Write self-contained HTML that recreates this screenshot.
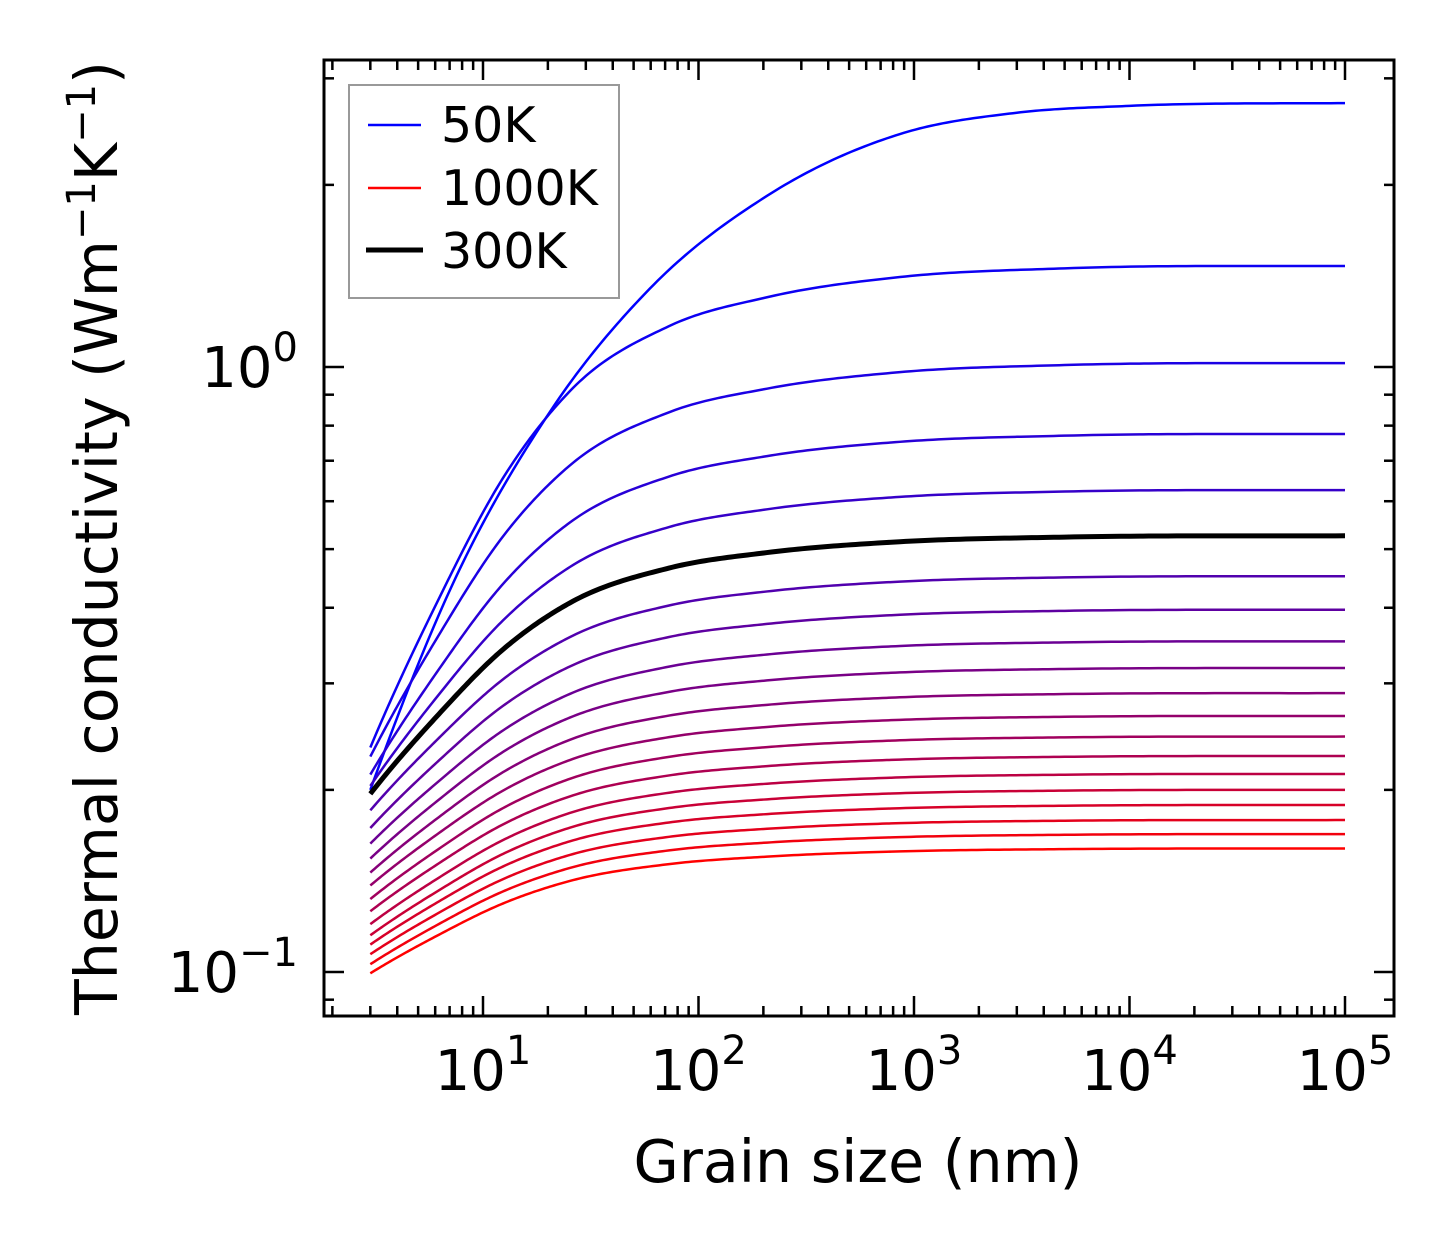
<!DOCTYPE html>
<html><head><meta charset="utf-8">
<style>
html,body{margin:0;padding:0;background:#fff;}
svg{display:block;font-family:"DejaVu Sans","Liberation Sans",sans-serif;}
</style></head>
<body>
<svg id="chart" width="1454" height="1254" viewBox="0 0 1454 1254" xmlns="http://www.w3.org/2000/svg">
<rect x="0" y="0" width="1454" height="1254" fill="#fff"/>
<g id="plot"></g>
<g id="axes"></g>
<text x="858" y="1182" font-size="58.5" text-anchor="middle">Grain size (nm)</text>
<text transform="translate(117,538) rotate(-90)" font-size="58.5" text-anchor="middle">Thermal conductivity (Wm<tspan dy="-22" font-size="40">−1</tspan><tspan dy="22">K</tspan><tspan dy="-22" font-size="40">−1</tspan><tspan dy="22">)</tspan></text>
<g>
<rect x="349" y="85" width="270" height="213" fill="#fff" stroke="#999" stroke-width="2"/>
<line x1="368" y1="125" x2="421" y2="125" stroke="#0000ff" stroke-width="2.5"/>
<text x="441" y="142" font-size="49">50K</text>
<line x1="368" y1="188" x2="421" y2="188" stroke="#ff0000" stroke-width="2.5"/>
<text x="441" y="205" font-size="49">1000K</text>
<line x1="366" y1="250" x2="423" y2="250" stroke="#000" stroke-width="5"/>
<text x="441" y="268" font-size="49">300K</text>
</g>
</svg>
<script>
// Data
const temperatures = [50,100,150,200,250,300,350,400,450,500,550,600,650,700,750,800,850,900,950,1000];
const kappaAt3nm = [0.200,0.235,0.227,0.212,0.203,0.197,0.185,0.173,0.163,0.154,0.146,0.139,0.132,0.126,0.120,0.115,0.111,0.107,0.103,0.0995];
const kappaBulk = [2.73,1.469,1.015,0.775,0.626,0.526,0.451,0.397,0.352,0.318,0.289,0.265,0.245,0.2275,0.2125,0.200,0.1888,0.1783,0.169,0.160];
const grainCommon = [3,6.1,12.4,25.3,73,208,861,5000,100000];
const shapeCommon = [0,0.30,0.56,0.74,0.875,0.935,0.977,0.995,1];
const grain50K = [3,7,20.4,59.5,208,861,3000,10000,100000];
const shape50K = [0,0.29,0.55,0.73,0.865,0.955,0.986,0.996,1];
const xTickLabels = ["1","2","3","4","5"];
const yTickLabels = ["−1","0"];

// Axis functions
const X0=324,X1=1394,Y0=60,Y1=1016;
const xDec=(1345-483)/4;
function xs(v){return 483+(Math.log10(v)-1)*xDec;}
function ys(v){return 367-Math.log10(v)*605;}
const NS="http://www.w3.org/2000/svg";
const plot=document.getElementById('plot');
const axes=document.getElementById('axes');

const defs=document.createElementNS(NS,'defs');
defs.innerHTML='<clipPath id="clip"><rect x="324" y="60" width="1070" height="956"/></clipPath>';
document.getElementById('chart').appendChild(defs);
plot.setAttribute('clip-path','url(#clip)');

function smoothSpline(xsArr,ysArr,n){
  const m=xsArr.length,d=[],h=[],t=new Array(m);
  for(let i=0;i<m-1;i++){h.push(xsArr[i+1]-xsArr[i]);d.push((ysArr[i+1]-ysArr[i])/h[i]);}
  t[0]=d[0]*1.1;t[m-1]=d[m-2]*0.5;
  for(let i=1;i<m-1;i++){t[i]=(d[i-1]*h[i]+d[i]*h[i-1])/(h[i-1]+h[i]);}
  const pts=[];
  for(let i=0;i<m-1;i++){
    for(let k=0;k<n;k++){
      const s=k/n,h00=2*s*s*s-3*s*s+1,h10=s*s*s-2*s*s+s,h01=-2*s*s*s+3*s*s,h11=s*s*s-s*s;
      pts.push([xsArr[i]+s*h[i],h00*ysArr[i]+h10*h[i]*t[i]+h01*ysArr[i+1]+h11*h[i]*t[i+1]]);
    }
  }
  pts.push([xsArr[m-1],ysArr[m-1]]);
  return pts;
}
function curvePath(idx,grain,shape){
  const lx=grain.map(g=>Math.log10(g));
  const a=Math.log10(kappaAt3nm[idx]),b=Math.log10(kappaBulk[idx]);
  const ly=shape.map(s=>a+(b-a)*s);
  const pts=smoothSpline(lx,ly,30);
  return pts.map((p,i)=>(i?'L':'M')+xs(Math.pow(10,p[0])).toFixed(2)+' '+ys(Math.pow(10,p[1])).toFixed(2)).join(' ');
}
temperatures.forEach((T,i)=>{
  const r=Math.round(i/19*255);
  const p=document.createElementNS(NS,'path');
  p.setAttribute('d',i===0?curvePath(i,grain50K,shape50K):curvePath(i,grainCommon,shapeCommon));
  p.setAttribute('fill','none');
  p.setAttribute('stroke','rgb('+r+',0,'+(255-r)+')');
  p.setAttribute('stroke-width','2.5');
  
  
  plot.appendChild(p);
});
{
  const i=temperatures.indexOf(300);
  const p=document.createElementNS(NS,'path');
  p.setAttribute('d',curvePath(i,grainCommon,shapeCommon));
  p.setAttribute('fill','none');
  p.setAttribute('stroke','#000');
  p.setAttribute('stroke-width','5');
  
  
  plot.appendChild(p);
}

function ln(x1,y1,x2,y2,w,name){
  const l=document.createElementNS(NS,'line');
  l.setAttribute('x1',x1);l.setAttribute('y1',y1);l.setAttribute('x2',x2);l.setAttribute('y2',y2);
  l.setAttribute('stroke','#000');l.setAttribute('stroke-width',w);
  
  
  axes.appendChild(l);
}
for(let d=0;d<=5;d++){
  for(let m=1;m<=9;m++){
    const v=m*Math.pow(10,d),x=xs(v);
    if(x<X0+1||x>X1-1)continue;
    const L=m===1?20:10;
    ln(x,Y1,x,Y1-L,2.5,'x-tick');
    ln(x,Y0,x,Y0+L,2.5,'x-tick-top');
  }
}
xTickLabels.forEach(e=>{
  const x=xs(Math.pow(10,+e));
  const t=document.createElementNS(NS,'text');
  t.setAttribute('x',x);t.setAttribute('y',1090);t.setAttribute('font-size','56');t.setAttribute('text-anchor','middle');
  t.innerHTML='10<tspan dy="-26" font-size="40">'+e+'</tspan>';
  
  
  axes.appendChild(t);
});
for(let d=-2;d<=0;d++){
  for(let m=1;m<=9;m++){
    const v=m*Math.pow(10,d),y=ys(v);
    if(y<Y0+1||y>Y1-1)continue;
    const L=m===1?20:10;
    ln(X0,y,X0+L,y,2.5,'y-tick');
    ln(X1,y,X1-L,y,2.5,'y-tick-right');
  }
}
yTickLabels.forEach(e=>{
  const v=e==="0"?0:-1;
  const y=ys(Math.pow(10,v));
  const t=document.createElementNS(NS,'text');
  t.setAttribute('x',298);t.setAttribute('y',y+20);t.setAttribute('font-size','56');t.setAttribute('text-anchor','end');
  t.innerHTML='10<tspan dy="-26" font-size="40">'+e+'</tspan>';
  
  
  axes.appendChild(t);
});
const fr=document.createElementNS(NS,'rect');
fr.setAttribute('x',X0);fr.setAttribute('y',Y0);fr.setAttribute('width',X1-X0);fr.setAttribute('height',Y1-Y0);
fr.setAttribute('fill','none');fr.setAttribute('stroke','#000');fr.setAttribute('stroke-width','3');


axes.appendChild(fr);
</script>
</body></html>
